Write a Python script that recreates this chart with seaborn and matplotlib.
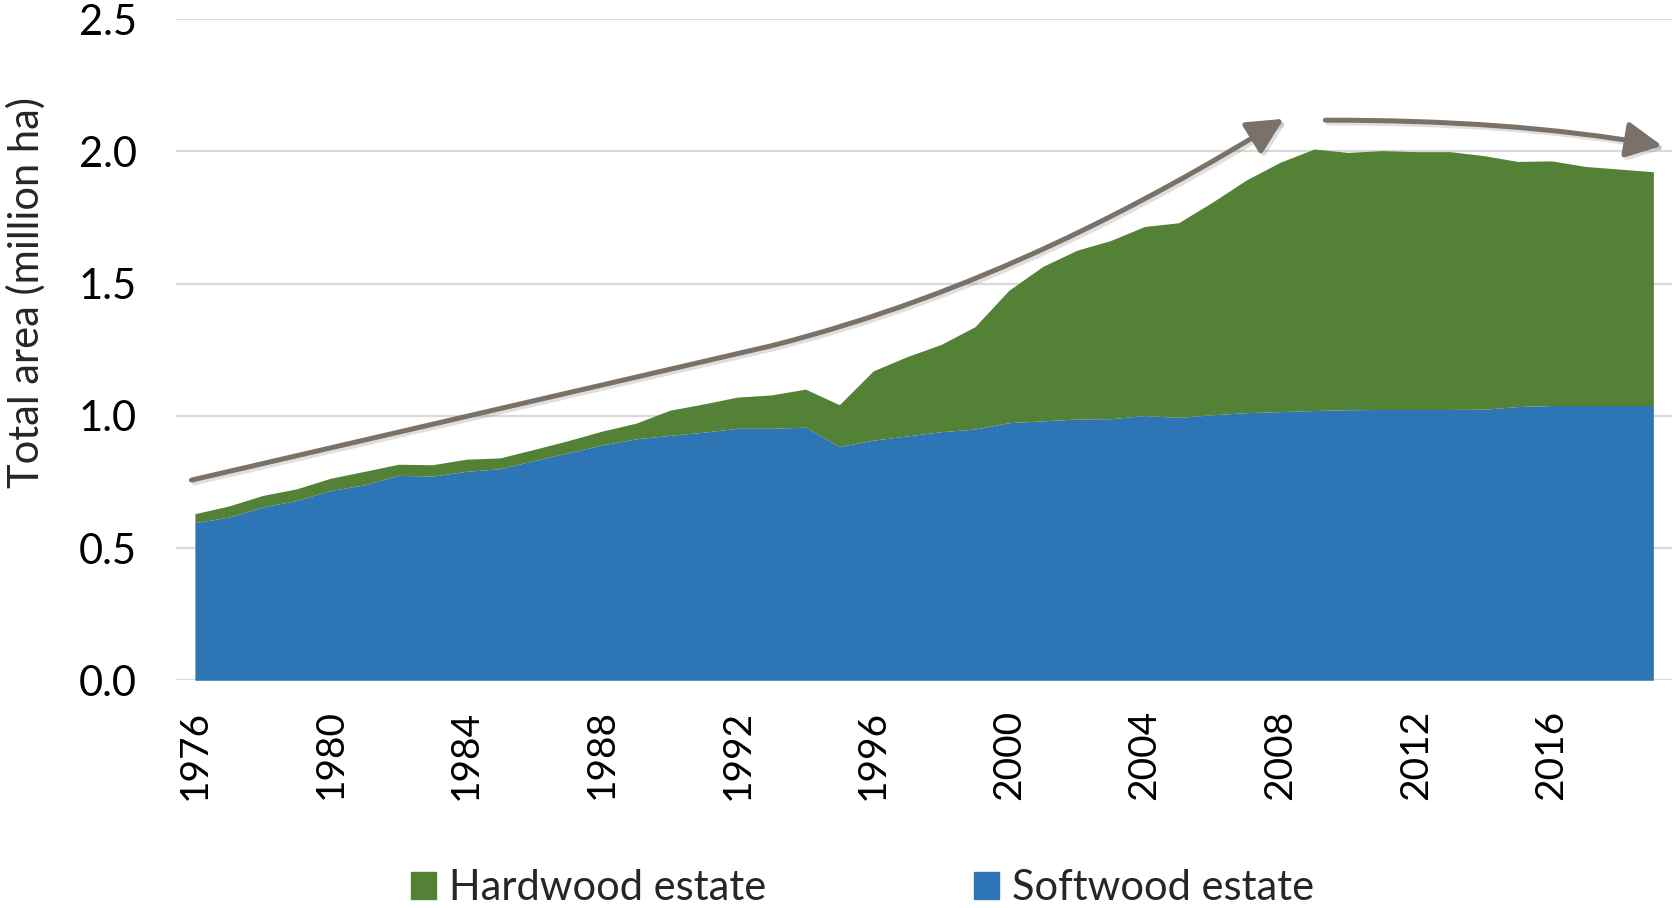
import numpy as np
import pandas as pd
import seaborn as sns
import matplotlib.pyplot as plt
import matplotlib.patheffects as pe
from matplotlib.patches import FancyArrowPatch, Patch
from matplotlib.path import Path
from matplotlib.ticker import FormatStrFormatter

#==================================== DATA ====================================
years = np.arange(1976, 2020)

# million ha
softwood = [0.596, 0.617, 0.655, 0.680, 0.718, 0.739, 0.775, 0.772, 0.790, 0.800,
            0.831, 0.860, 0.890, 0.913, 0.926, 0.938, 0.953, 0.953, 0.957, 0.884,
            0.908, 0.924, 0.940, 0.950, 0.974, 0.981, 0.988, 0.989, 1.001, 0.994,
            1.004, 1.012, 1.016, 1.020, 1.023, 1.024, 1.024, 1.024, 1.025, 1.035,
            1.039, 1.039, 1.039, 1.039]
hardwood = [0.034, 0.042, 0.044, 0.044, 0.046, 0.051, 0.042, 0.043, 0.046, 0.041,
            0.042, 0.046, 0.052, 0.059, 0.095, 0.107, 0.118, 0.126, 0.144, 0.158,
            0.262, 0.300, 0.330, 0.387, 0.501, 0.584, 0.638, 0.674, 0.715, 0.736,
            0.804, 0.880, 0.943, 0.989, 0.973, 0.979, 0.975, 0.975, 0.959, 0.927,
            0.925, 0.904, 0.894, 0.884]

series_names = ['Softwood estate', 'Hardwood estate']
x_ticks = list(range(1976, 2020, 4))
y_ticks = [0.0, 0.5, 1.0, 1.5, 2.0, 2.5]

BLUE = '#2e75b6'
GREEN = '#538135'
ARROW = '#7a7169'
GRID = '#d9d9d9'

df = pd.DataFrame({'year': years, series_names[0]: softwood, series_names[1]: hardwood})

#==================================== PLOT ====================================
sns.set_theme(style='whitegrid')
plt.rcParams['font.family'] = ['Lato', 'DejaVu Sans']

fig = plt.figure(figsize=(16.72, 9.08), dpi=100)
ax = fig.add_axes([0.105, 0.2508, 0.895, 0.7281])

ax.stackplot(df['year'], df[series_names[0]], df[series_names[1]],
             colors=[BLUE, GREEN], linewidth=0)

ax.set_xlim(1975.43, 2019.55)
ax.set_ylim(0, 2.5)
ax.set_xticks(x_ticks)
ax.set_yticks(y_ticks)
ax.yaxis.set_major_formatter(FormatStrFormatter('%.1f'))
ax.grid(axis='x', visible=False)
ax.grid(axis='y', color=GRID, linewidth=1.6)
ax.set_axisbelow(True)
for s in ax.spines.values():
    s.set_visible(False)
ax.tick_params(axis='y', length=0, pad=28, labelsize=30, labelcolor='black')
ax.tick_params(axis='x', length=0, pad=21, labelsize=28, labelcolor='black', labelrotation=90)

fig.text(0.0155, 0.678, 'Total area (million ha)', rotation=90,
         ha='center', va='center', fontsize=30)

# trend arrows
shadow = [pe.SimpleLineShadow(offset=(2, -2), alpha=0.25, shadow_color='gray'), pe.Normal()]
rise = Path([(1975.9, 0.757), (1993, 1.265), (1999, 1.46), (2004, 1.80), (2008.1, 2.123)],
            [Path.MOVETO, Path.LINETO, Path.CURVE4, Path.CURVE4, Path.CURVE4])
flat = Path([(2009.33, 2.118), (2013, 2.118), (2016, 2.092), (2019.26, 2.021)],
            [Path.MOVETO, Path.CURVE4, Path.CURVE4, Path.CURVE4])
for p in (rise, flat):
    arr = FancyArrowPatch(path=p, arrowstyle='-|>,head_length=1.0,head_width=0.5',
                          mutation_scale=22, color=ARROW, lw=3.6,
                          transform=ax.transData, clip_on=False, zorder=5)
    arr.set_path_effects(shadow)
    ax.add_patch(arr)

handles = [Patch(color=GREEN, label=series_names[1]), Patch(color=BLUE, label=series_names[0])]
fig.legend(handles=handles, loc='center', bbox_to_anchor=(0.516, 0.022), ncol=2,
           frameon=False, fontsize=30, handlelength=0.6, handleheight=0.6,
           handletextpad=0.3, columnspacing=5.0)

fig.savefig('out.png', dpi=100)
